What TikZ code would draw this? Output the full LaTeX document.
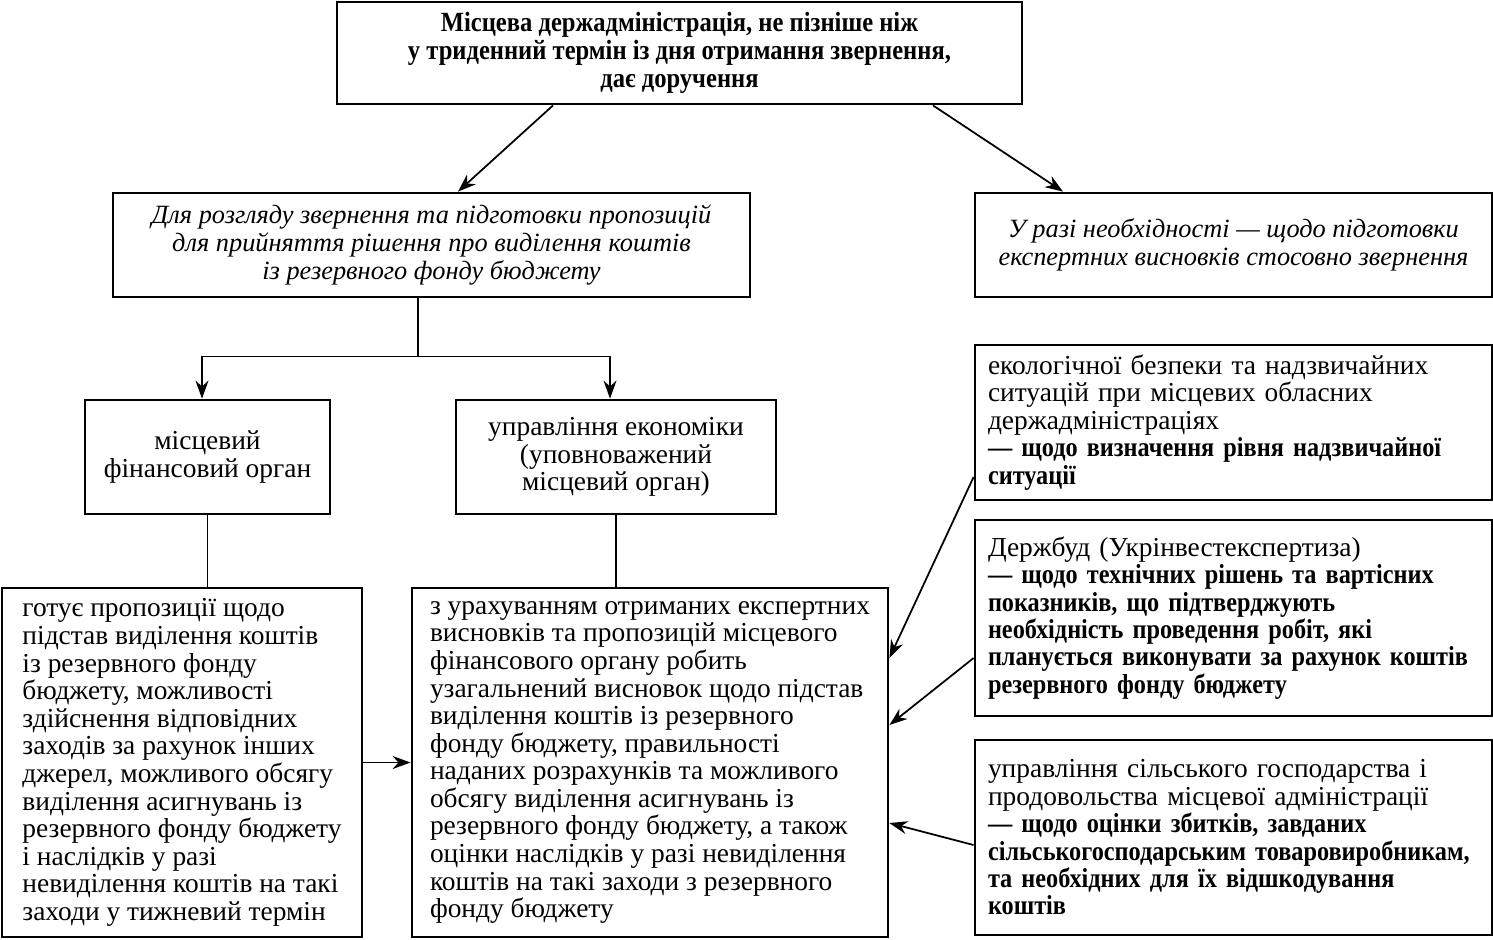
\documentclass[tikz,border=0pt]{standalone}
\usepackage{fontspec}
\setmainfont{Liberation Serif}[BoldFeatures={FakeStretch=0.885}]
\usetikzlibrary{arrows.meta,positioning,calc}

\begin{document}
\begin{tikzpicture}[
    box/.style={draw, line width=1.6pt, inner sep=0pt},
    lbox/.style={box, align=left, inner xsep=0.26cm, text width=9.82cm, minimum width=10.34cm},
    arr/.style={-{Stealth[length=0.36cm, width=0.26cm]}, line width=1pt},
    link/.style={line width=1pt},
    every node/.style={font=\fontsize{15.6}{15.6}\selectfont}
]
    \useasboundingbox (0,0) rectangle (29.86,-18.78);

    % Administration at top
    \node[box, minimum width=13.7cm, minimum height=2.04cm, align=center, font=\bfseries\fontsize{15.8}{15.8}\selectfont] (admin) at (13.59,-1.06) {Місцева держадміністрація, не пізніше ніж\\у триденний термін із дня отримання звернення,\\дає доручення};

    % Two assignments
    \node[box, minimum width=12.74cm, minimum height=2.08cm, align=center, font=\itshape\fontsize{15}{15.8}\selectfont] (consider) at (8.63,-4.9) {Для розгляду звернення та підготовки пропозицій\\для прийняття рішення про виділення коштів\\із резервного фонду бюджету};
    \node[box, minimum width=10.34cm, minimum height=2.08cm, align=center, font=\itshape\fontsize{15}{15.8}\selectfont] (expert) at (24.67,-4.9) {У разі необхідності — щодо підготовки\\експертних висновків стосовно звернення};

    \draw[arr] ([xshift=-2.53cm]admin.south) -- ([xshift=0.53cm]consider.north);
    \draw[arr] ([xshift=5.07cm]admin.south) -- ([xshift=-3.41cm]expert.north);

    % Local bodies
    \node[box, minimum width=4.9cm, minimum height=2.28cm, align=center] (finorg) at (4.15,-9.14) {місцевий\\фінансовий орган};
    \node[box, minimum width=6.4cm, minimum height=2.28cm, align=center] (econ) at (12.32,-9.14) {управління економіки\\(уповноважений\\місцевий орган)};

    \draw[link] ([xshift=-0.27cm]consider.south) -- ++(0,-1.16) coordinate (split);
    \draw[arr] (split) -| ([xshift=-0.11cm]finorg.north);
    \draw[arr] (split) -| ([xshift=-0.12cm]econ.north);

    % What they prepare
    \node[box, minimum width=7.2cm, minimum height=6.98cm, align=left, font=\fontsize{15.6}{15.7}\selectfont] (finwork) at (3.64,-15.25) {готує пропозиції щодо\\підстав виділення коштів\\із резервного фонду\\бюджету, можливості\\здійснення відповідних\\заходів за рахунок інших\\джерел, можливого обсягу\\виділення асигнувань із\\резервного фонду бюджету\\і наслідків у разі\\невиділення коштів на такі\\заходи у тижневий термін};
    \node[box, minimum width=9.52cm, minimum height=6.98cm, align=left, font=\fontsize{15.6}{15.7}\selectfont] (econwork) at (13.0,-15.25) {з урахуванням отриманих експертних\\висновків та пропозицій місцевого\\фінансового органу робить\\узагальнений висновок щодо підстав\\виділення коштів із резервного\\фонду бюджету, правильності\\наданих розрахунків та можливого\\обсягу виділення асигнувань із\\резервного фонду бюджету, а також\\оцінки наслідків у разі невиділення\\коштів на такі заходи з резервного\\фонду бюджету};

    \draw[link] (finorg.south) -- (finorg.south |- finwork.north);
    \draw[link] (econ.south) -- (econ.south |- econwork.north);
    \draw[arr] (finwork) -- (econwork);

    % Expert conclusions
    \node[lbox, minimum height=3.1cm] (ecology) at (24.67,-8.45) {екологічної безпеки та надзвичайних\\ситуацій при місцевих обласних\\держадміністраціях\\\textbf{— щодо визначення рівня надзвичайної}\\\textbf{ситуації}};
    \node[lbox, minimum height=3.92cm] (build) at (24.67,-12.36) {Держбуд (Укрінвестекспертиза)\\\textbf{— щодо технічних рішень та вартісних}\\\textbf{показників, що підтверджують}\\\textbf{необхідність проведення робіт, які}\\\textbf{планується виконувати за рахунок коштів}\\\textbf{резервного фонду бюджету}};
    \node[lbox, minimum height=3.9cm] (agro) at (24.67,-16.75) {управління сільського господарства і\\продовольства місцевої адміністрації\\\textbf{— щодо оцінки збитків, завданих}\\\textbf{сільськогосподарським товаровиробникам,}\\\textbf{та необхідних для їх відшкодування}\\\textbf{коштів}};

    \draw[arr] ([yshift=-1.09cm]ecology.west) -- ([yshift=2.09cm]econwork.east);
    \draw[arr] ([yshift=-0.8cm]build.west) -- ([yshift=0.75cm]econwork.east);
    \draw[arr] ([yshift=-0.15cm]agro.west) -- ([yshift=-1.21cm]econwork.east);
\end{tikzpicture}
\end{document}
